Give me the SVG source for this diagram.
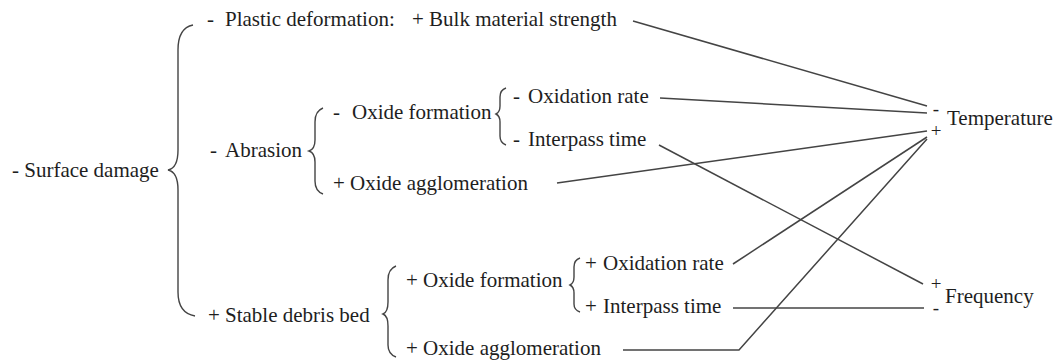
<svg xmlns="http://www.w3.org/2000/svg" width="1058" height="362" viewBox="0 0 1058 362">
<style>
text{font-family:'Liberation Serif','Times New Roman',Times,serif;font-size:21px;fill:#1e1e1e;}
.s{font-size:19px;text-anchor:middle;}
.br{fill:none;stroke:#444;stroke-width:1.4;}
.ln{fill:none;stroke:#444;stroke-width:1.5;}
</style>
<rect width="1058" height="362" fill="#fff"/>
<g id="surface-damage">
<text x="12" y="177">- Surface damage</text>
<path class="br" d="M193,25 Q178,28 178,50 L178,150 Q178,168 168,170 Q178,172 178,190 L178,292 Q178,313 195,316"/>
</g>
<g id="plastic-deformation">
<text x="207" y="26">-</text>
<text x="225" y="26">Plastic deformation:</text>
</g>
<g id="bulk-strength"><text x="412" y="26">+ Bulk material strength</text></g>
<g id="abrasion">
<text x="210" y="157">-</text><text x="225" y="157">Abrasion</text>
<path class="br" d="M323,108 Q315,111 315,122 L315,140 Q315,149 309,151 Q315,153 315,162 L315,181 Q315,191 323,194"/>
</g>
<g id="oxide-formation-neg">
<text x="333" y="119">-</text><text x="352" y="119">Oxide formation</text>
<path class="br" d="M506,88 Q500,90 500,97 L500,106 Q500,112 496,114 Q500,116 500,122 L500,136 Q500,143 506,145"/>
</g>
<g id="oxidation-rate-neg"><text x="513" y="103">-</text><text x="528" y="103">Oxidation rate</text></g>
<g id="interpass-time-neg"><text x="513" y="146">-</text><text x="528" y="146">Interpass time</text></g>
<g id="oxide-agglomeration-pos1"><text x="333" y="190">+ Oxide agglomeration</text></g>
<g id="stable-debris-bed">
<text x="208" y="322">+</text><text x="225" y="322">Stable debris bed</text>
<path class="br" d="M396,266 Q388,269 388,280 L388,302 Q388,312 383,314 Q388,316 388,326 L388,345 Q388,354 396,357"/>
</g>
<g id="oxide-formation-pos">
<text x="406" y="287">+ Oxide formation</text>
<path class="br" d="M580,258 Q574,260 574,267 L574,277 Q574,283 570,285 Q574,287 574,293 L574,304 Q574,310 580,312"/>
</g>
<g id="oxidation-rate-pos"><text x="585" y="270">+</text><text x="603" y="270">Oxidation rate</text></g>
<g id="interpass-time-pos"><text x="585" y="313">+</text><text x="603" y="313">Interpass time</text></g>
<g id="oxide-agglomeration-pos2"><text x="406" y="355">+ Oxide agglomeration</text></g>
<g id="temperature">
<text class="s" x="936" y="115">-</text>
<text class="s" x="936" y="137">+</text>
<text x="947" y="125">Temperature</text>
</g>
<g id="frequency">
<text class="s" x="936" y="290">+</text>
<text class="s" x="936" y="314">-</text>
<text x="945" y="303">Frequency</text>
</g>
<g id="connectors">
<line class="ln" x1="633" y1="21" x2="927" y2="106"/>
<line class="ln" x1="660" y1="98" x2="927" y2="113"/>
<line class="ln" x1="557" y1="183" x2="927" y2="131"/>
<line class="ln" x1="659" y1="145" x2="923" y2="284"/>
<line class="ln" x1="733" y1="264" x2="927" y2="137"/>
<polyline class="ln" points="623,350 739,350 927,139"/>
<line class="ln" x1="733" y1="308" x2="924" y2="308"/>
</g>
</svg>
